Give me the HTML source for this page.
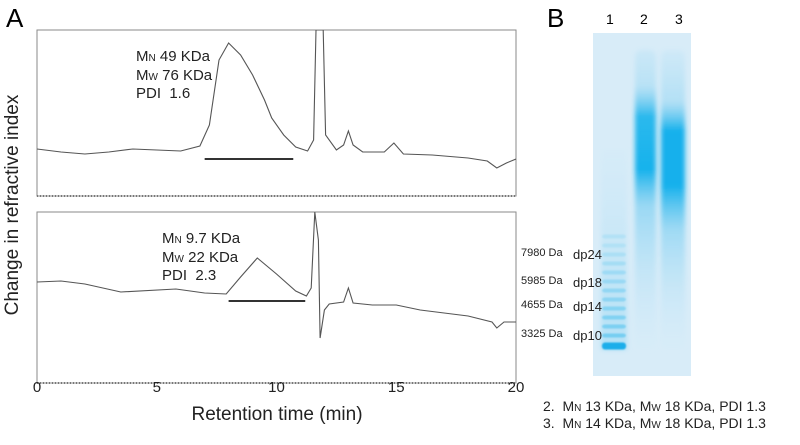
<!DOCTYPE html>
<html><head><meta charset="utf-8"><style>
body{margin:0;background:#fff;width:800px;height:440px;overflow:hidden;font-family:"Liberation Sans",sans-serif}
svg text{font-family:"Liberation Sans",sans-serif}
</style></head><body>
<svg width="800" height="440" viewBox="0 0 800 440">
<defs>
<filter id="blur" x="-30%" y="-10%" width="160%" height="120%"><feGaussianBlur stdDeviation="2.5"/></filter>
<filter id="blur1" x="-30%" y="-30%" width="160%" height="160%"><feGaussianBlur stdDeviation="0.8"/></filter>
<linearGradient id="lane2" x1="0" y1="0" x2="0" y2="1">
<stop offset="0" stop-color="#7fd0f2" stop-opacity="0.15"/>
<stop offset="0.12" stop-color="#6fcaf0" stop-opacity="0.3"/>
<stop offset="0.22" stop-color="#19b3ec" stop-opacity="0.9"/>
<stop offset="0.4" stop-color="#18b2ec" stop-opacity="1"/>
<stop offset="0.52" stop-color="#66c8f0" stop-opacity="0.55"/>
<stop offset="0.75" stop-color="#9ad8f4" stop-opacity="0.3"/>
<stop offset="1" stop-color="#c5e7f7" stop-opacity="0.05"/>
</linearGradient>
<linearGradient id="lane3" x1="0" y1="0" x2="0" y2="1">
<stop offset="0" stop-color="#7fd0f2" stop-opacity="0.1"/>
<stop offset="0.17" stop-color="#6fcaf0" stop-opacity="0.35"/>
<stop offset="0.27" stop-color="#12b0ec" stop-opacity="1"/>
<stop offset="0.45" stop-color="#12b0ec" stop-opacity="1"/>
<stop offset="0.6" stop-color="#66c8f0" stop-opacity="0.5"/>
<stop offset="0.8" stop-color="#9ad8f4" stop-opacity="0.25"/>
<stop offset="1" stop-color="#c5e7f7" stop-opacity="0.05"/>
</linearGradient>
<linearGradient id="lane1" x1="0" y1="0" x2="0" y2="1">
<stop offset="0" stop-color="#bfe5f7" stop-opacity="0.1"/>
<stop offset="0.5" stop-color="#a6ddf5" stop-opacity="0.35"/>
<stop offset="1" stop-color="#8ed5f3" stop-opacity="0.5"/>
</linearGradient>
</defs>
<text x="6" y="27" font-size="26">A</text>
<g id="chart"></g>
<text x="18" y="205" font-size="19" text-anchor="middle" transform="rotate(-90 18 205)" fill="#222">Change in refractive index</text>
<text x="277" y="420" font-size="19" text-anchor="middle" fill="#222">Retention time (min)</text>

<g font-size="15" fill="#222">
<text x="136" y="61">M<tspan font-size="10">N</tspan> 49 KDa</text>
<text x="136" y="80">M<tspan font-size="10">W</tspan> 76 KDa</text>
<text x="136" y="98">PDI&#160; 1.6</text>
</g>
<g font-size="15" fill="#222">
<text x="162" y="243">M<tspan font-size="10">N</tspan> 9.7 KDa</text>
<text x="162" y="262">M<tspan font-size="10">W</tspan> 22 KDa</text>
<text x="162" y="280">PDI&#160; 2.3</text>
</g>

<text x="547" y="27" font-size="26">B</text>
<g>
<rect x="593" y="33" width="98" height="343" fill="#d8ecf8"/>
<rect x="601" y="150" width="26" height="200" fill="url(#lane1)" filter="url(#blur)"/>
<g id="bands" fill="#3fbef0" filter="url(#blur1)"></g>
<rect x="635" y="50" width="21" height="300" rx="6" fill="url(#lane2)" filter="url(#blur)"/>
<rect x="661" y="50" width="24" height="300" rx="6" fill="url(#lane3)" filter="url(#blur)"/>
<text x="606" y="24" font-size="14">1</text>
<text x="640" y="24" font-size="14">2</text>
<text x="675" y="24" font-size="14">3</text>
</g>
<g font-family="Liberation Serif" font-size="11" fill="#222">
<text x="521" y="256" font-family="Liberation Serif">7980 Da</text><text x="573" y="259" font-size="13" font-family="Liberation Serif">dp24</text>
<text x="521" y="284" font-family="Liberation Serif">5985 Da</text><text x="573" y="287" font-size="13" font-family="Liberation Serif">dp18</text>
<text x="521" y="308" font-family="Liberation Serif">4655 Da</text><text x="573" y="311" font-size="13" font-family="Liberation Serif">dp14</text>
<text x="521" y="337" font-family="Liberation Serif">3325 Da</text><text x="573" y="340" font-size="13" font-family="Liberation Serif">dp10</text>
</g>
<g font-size="14" fill="#222">
<text x="543" y="411">2.&#160; M<tspan font-size="10">N</tspan> 13 KDa, M<tspan font-size="10">W</tspan> 18 KDa, PDI 1.3</text>
<text x="543" y="428">3.&#160; M<tspan font-size="10">N</tspan> 14 KDa, M<tspan font-size="10">W</tspan> 18 KDa, PDI 1.3</text>
</g>
</svg>
<script>
const xTicks=[0,5,10,15,20];
const topTimes=[0,1,2,3,4,5,6,6.8,7.2,7.6,8.0,8.5,9.0,9.5,9.8,10.3,10.8,11.3,11.55,11.65,11.95,12.05,12.5,12.8,13.0,13.2,13.6,14.5,14.9,15.3,16.5,18,18.8,19.2,19.6,20];
const topSignal=[47,44,42,44,47,46,45,50,71,136,153,141,121,96,78,61,49,45,56,166,166,61,46,51,65,51,44,44,53,42,41,38,35,28,33,37];
const botTimes=[0,1,2,3.5,5.8,7,7.9,8.5,9.2,10,10.8,11.25,11.45,11.6,11.75,11.82,12.0,12.2,12.8,13.0,13.2,14,15,16,18,19,19.2,19.5,20];
const botSignal=[101,102,99,91,94,90,89,106,125,109,92,87,95,171,143,45,73,79,81,95,80,78,78,73,67,61,55,61,61];
const topBar=[7,10.7];
const botBar=[8,11.2];
const bandLevels=[10,11,12,13,14,15,16,17,18,19,20,21,22];
const NS='http://www.w3.org/2000/svg';
const X0=37,X1=516;
const xs=t=>X0+(t-0)/(20-0)*(X1-X0);
const panels=[{top:30,bot:196,times:topTimes,sig:topSignal,bar:topBar,barSig:42,name:'top'},
              {top:212,bot:383,times:botTimes,sig:botSignal,bar:botBar,barSig:87,name:'bottom'}];
const g=document.getElementById('chart');
function el(tag,attrs){const e=document.createElementNS(NS,tag);for(const k in attrs)e.setAttribute(k,attrs[k]);return e;}
panels.forEach(p=>{
  const ys=v=>p.bot-v;
  const frame=el('rect',{x:X0,y:p.top,width:X1-X0,height:p.bot-p.top,fill:'none',stroke:'#8a8a8a','stroke-width':1});
  
  
  g.appendChild(frame);
  const ax=el('line',{x1:X0,x2:X1,y1:p.bot,y2:p.bot,stroke:'#777','stroke-width':2,'stroke-dasharray':'1 2'});
  
  
  g.appendChild(ax);
  const clip=el('clipPath',{id:'clip'+p.name});clip.appendChild(el('rect',{x:X0,y:p.top,width:X1-X0,height:p.bot-p.top}));g.appendChild(clip);
  let d='';p.times.forEach((t,i)=>{d+=(i?'L':'M')+xs(t).toFixed(1)+','+ys(p.sig[i]).toFixed(1);});
  const path=el('path',{d:d,fill:'none',stroke:'#555','stroke-width':1.1,'clip-path':'url(#clip'+p.name+')'});
  
  
  g.appendChild(path);
  const bar=el('line',{x1:xs(p.bar[0]),x2:xs(p.bar[1]),y1:ys(p.barSig)+5,y2:ys(p.barSig)+5,stroke:'#333','stroke-width':2});
  
  
  g.appendChild(bar);
});
xTicks.forEach(t=>{
  const tx=el('text',{x:xs(t),y:392,'font-size':15,'text-anchor':'middle',fill:'#222'});
  tx.textContent=t;
  
  
  g.appendChild(tx);
});
const bands=document.getElementById('bands');
bandLevels.forEach(l=>{
  const y=345-(l-10)*9;
  const op=l===10?1:Math.max(0.2,0.75-(l-10)*0.05);
  const b=el('rect',{x:602,y:y-2.5,width:24,height:l===10?7:4,rx:3,opacity:op,fill:l===10?'#1aaeea':'#5cc6f0'});
  
  
  bands.appendChild(b);
});
</script>
</body></html>
